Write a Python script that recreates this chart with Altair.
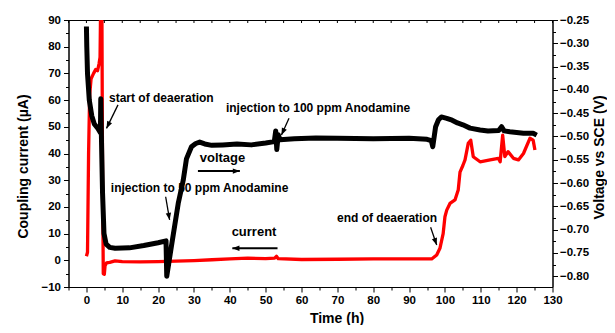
import math
import altair as alt
import pandas as pd

# ---------------- data ----------------
# coupling current (red, left axis, uA)
red_t = [0, 0.3, 0.6, 0.9, 1.3, 2.0, 2.6, 3.1, 3.5, 3.8, 4.0, 4.3, 4.5, 4.7, 5.0, 5.2, 5.6, 6.5,
         8, 10, 15, 20, 25, 30, 35, 40, 45, 50, 52.5, 53, 53.5, 60, 70, 80, 90, 96.3, 97.7, 98.6,
         99.5, 100, 100.5, 101.4, 102.8, 103.7, 104.2, 105, 105.6, 106.5, 107.2, 107.9, 109.8,
         112.6, 114.9, 115.4, 116.1, 116.7, 117.6, 119.1, 120.5, 121.9, 123.7, 124.6, 125.1]
red_i = [1.5, 3, 40, 62, 68, 70, 71.5, 71, 73.5, 76, 100, 100, 30, -5, -5.2, -2, -1, -0.8,
         -0.2, -0.5, -0.6, -0.5, -0.3, -0.1, 0.2, 0.5, 0.8, 0.6, 0.8, 1.5, 0.6, 0.3, 0.4, 0.5, 0.5,
         0.5, 2, 4.5, 10, 16.3, 18.8, 21.3, 22.6, 26.3, 33, 35.5, 37.6, 43.8, 45, 38.8, 36.9,
         37.6, 38.2, 36.9, 46.9, 38.8, 40.7, 38.2, 37.6, 40, 45.7, 45, 41.3]

# voltage vs SCE (black, right axis, V)
black_t = [0, 0.1, 0.3, 0.8, 1.5, 2.2, 3.2, 3.9, 4.0, 4.2, 4.5, 4.9, 5.5, 6.5, 8, 12, 16, 20,
           22.2, 22.4, 23.7, 25.6, 27, 27.9, 29.3, 30.5, 31.6, 33, 35, 38, 42, 46, 50, 52.4,
           52.8, 53.1, 53.5, 54, 58, 64, 70, 80, 90, 95, 96.2, 96.6, 97.4, 98.2, 99, 100.5,
           102, 103.5, 105, 107, 109.8, 112, 115, 115.8, 116.5, 118.1, 121.9, 124.6, 125.6]
black_v = [-0.264, -0.307, -0.365, -0.422, -0.456, -0.473, -0.483, -0.492, -0.419, -0.508,
           -0.622, -0.708, -0.731, -0.738, -0.740, -0.739, -0.734, -0.728, -0.724, -0.800,
           -0.736, -0.644, -0.594, -0.548, -0.522, -0.515, -0.512, -0.516, -0.519, -0.518,
           -0.516, -0.518, -0.514, -0.511, -0.488, -0.528, -0.496, -0.507, -0.505, -0.503,
           -0.504, -0.505, -0.504, -0.506, -0.509, -0.522, -0.479, -0.464, -0.458, -0.461,
           -0.465, -0.471, -0.475, -0.482, -0.486, -0.488, -0.487, -0.479, -0.488, -0.490,
           -0.493, -0.493, -0.497]

# annotations (positions in time / current units)
ann_text = ["start of deaeration", "injection to 50 ppm Anodamine",
            "injection to 100 ppm Anodamine", "voltage", "current", "end of deaeration"]
ann_t = [6.3, 6.8, 38.9, 31.6, 40.5, 69.9]
ann_i = [60.7, 27.1, 56.9, 38.3, 10.6, 15.7]
ann_size = [12, 12, 12, 13, 13, 12]

arr_t1 = [8.8, 22.1, 56.5, 31.1, 53.3, 96.0]
arr_i1 = [58.2, 23.8, 53.2, 33.4, 4.5, 12.4]
arr_t2 = [5.6, 23.2, 54.4, 42.8, 40.7, 97.7]
arr_i2 = [49.4, 15.1, 46.9, 33.4, 4.5, 5.7]
arr_w = [1.3, 1.3, 1.3, 2.0, 2.0, 1.3]

X_DOM = [-5, 130]
YL_DOM = [-10, 90]
YR_DOM = [-0.823, -0.25]
W, H = 484, 267
FONT = "Liberation Sans"

red_df = pd.DataFrame({"t": red_t, "i": red_i}).reset_index()
black_df = pd.DataFrame({"t": black_t, "v": black_v}).reset_index()
ann_df = pd.DataFrame({"t": ann_t, "i": ann_i, "label": ann_text, "fs": ann_size})

sx = W / (X_DOM[1] - X_DOM[0])
sy = H / (YL_DOM[1] - YL_DOM[0])
angles = []
for a, b, c, d in zip(arr_t1, arr_i1, arr_t2, arr_i2):
    dx = (c - a) * sx
    dy = -(d - b) * sy
    angles.append(math.degrees(math.atan2(dx, -dy)) % 360)
arr_df = pd.DataFrame({"t1": arr_t1, "i1": arr_i1, "t2": arr_t2, "i2": arr_i2,
                       "w": arr_w, "ang": angles})
top_ticks = pd.DataFrame({"t": list(range(-5, 131, 5))})

x_scale = alt.Scale(domain=X_DOM, nice=False, zero=False)
yl_scale = alt.Scale(domain=YL_DOM, nice=False, zero=False)
yr_scale = alt.Scale(domain=YR_DOM, nice=False, zero=False)

common_axis = dict(grid=False, domainColor="black", tickColor="black", labelColor="black",
                   titleColor="black", labelFont=FONT, titleFont=FONT, labelFontSize=11.5,
                   labelFontWeight="bold", titleFontSize=14, titleFontWeight="bold",
                   domainWidth=1, tickWidth=1)

x_axis = alt.Axis(title="Time (h)", values=list(range(-5, 131, 5)),
                  labelExpr="datum.value % 10 === 0 ? datum.label : ''",
                  tickSize={"condition": {"test": "datum.value % 10 === 0", "value": 5}, "value": 3},
                  labelPadding=2, titleX=268, titleY=31, titleBaseline="middle",
                  labelFlush=False, **common_axis)
yl_axis = alt.Axis(title="Coupling current (µA)", values=list(range(-10, 91, 5)),
                   labelExpr="datum.value % 10 === 0 ? datum.label : ''",
                   tickSize={"condition": {"test": "datum.value % 10 === 0", "value": 5}, "value": 3},
                   labelPadding=3, titleX=-45, titleY=146, titleBaseline="middle",
                   titleAngle=270, labelFlush=False, **common_axis)
yr_vals = [round(-0.80 + 0.025 * k, 3) for k in range(23)]
yr_axis = alt.Axis(title="Voltage vs SCE (V)", orient="right", values=yr_vals,
                   labelExpr="abs(round(datum.value*20) - datum.value*20) < 0.001 ? format(datum.value, '.2f') : ''",
                   tickSize={"condition": {"test": "abs(round(datum.value*20) - datum.value*20) < 0.001", "value": 5}, "value": 3},
                   labelPadding=2, titleX=47, titleY=137, titleBaseline="middle",
                   titleAngle=270, labelFlush=False, **common_axis)

X = lambda f: alt.X(f, scale=x_scale, axis=x_axis)
YL = lambda f: alt.Y(f, scale=yl_scale, axis=yl_axis)

red_line = alt.Chart(red_df).mark_line(color="#ff0000", strokeWidth=3.3, clip=True,
                                       strokeJoin="round").encode(
    x=X("t:Q"), y=YL("i:Q"), order="index:Q",
)

tticks = alt.Chart(top_ticks).mark_rule(color="black", strokeWidth=1).encode(
    x=X("t:Q"), y=alt.value(0), y2=alt.value(3),
)

arrows = alt.Chart(arr_df).mark_rule(color="black").encode(
    x=X("t1:Q"), x2="t2:Q", y=YL("i1:Q"), y2="i2:Q",
    strokeWidth=alt.StrokeWidth("w:Q", scale=None),
)
heads = alt.Chart(arr_df).mark_point(shape="M0,0L0.38,1L-0.38,1Z", filled=True, color="black",
                                     opacity=1, size=200).encode(
    x=X("t2:Q"), y=YL("i2:Q"),
    angle=alt.Angle("ang:Q", scale=None),
)
texts = alt.Chart(ann_df).mark_text(font=FONT, fontWeight="bold", align="left",
                                    baseline="middle", color="black").encode(
    x=X("t:Q"), y=YL("i:Q"),
    text="label:N",
    size=alt.Size("fs:Q", scale=None),
)

left_group = alt.layer(red_line, tticks, arrows, heads, texts)

black_line = alt.Chart(black_df).mark_line(color="black", strokeWidth=5,
                                           strokeJoin="round", clip=True).encode(
    x=X("t:Q"),
    y=alt.Y("v:Q", scale=yr_scale, axis=yr_axis),
    order="index:Q",
)

chart = alt.layer(left_group, black_line).resolve_scale(y="independent").properties(
    width=W, height=H,
    autosize=alt.AutoSizeParams(type="none"),
    padding={"left": 60.5, "top": 12, "right": 54, "bottom": 38},
    background="white",
).configure_view(stroke="black", strokeWidth=1)

chart.save("out.html", embed_options={"renderer": "svg", "actions": False})
